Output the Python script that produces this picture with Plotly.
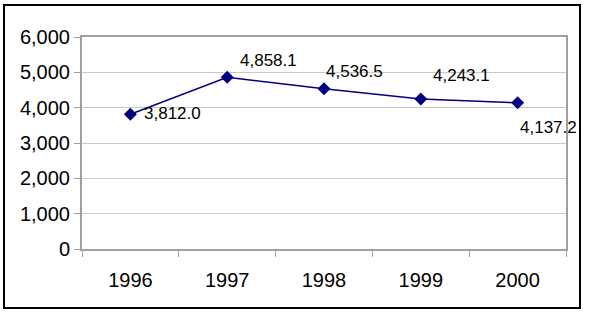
import plotly.graph_objects as go

years = ["1996", "1997", "1998", "1999", "2000"]
values = [3812.0, 4858.1, 4536.5, 4243.1, 4137.2]
labels = ["3,812.0", "4,858.1", "4,536.5", "4,243.1", "4,137.2"]
y_ticks = [0, 1000, 2000, 3000, 4000, 5000, 6000]
y_tick_text = ["0", "1,000", "2,000", "3,000", "4,000", "5,000", "6,000"]

# label offsets (px) to mimic the original placement
label_dx = [12, 11, 0, 10, 0]
label_dy = [1, 17, 17, 24, -25]

FONT = "Liberation Sans, Arial, sans-serif"
xpos = list(range(len(years)))

fig = go.Figure()
fig.add_trace(go.Scatter(
    x=xpos, y=values, mode="lines+markers",
    line=dict(color="#000080", width=1.5),
    marker=dict(symbol="diamond", size=10, color="#000080"),
    hoverinfo="skip", showlegend=False,
))

for x, y, t, dx, dy in zip(xpos, values, labels, label_dx, label_dy):
    fig.add_annotation(x=x, y=y, text=t, showarrow=False, xanchor="left",
                       yanchor="middle", xshift=dx, yshift=dy,
                       font=dict(family=FONT, size=17, color="black"))

# outer frame
fig.add_shape(type="rect", xref="paper", yref="paper",
              x0=(4 - 82) / 484, x1=(580 - 82) / 484,
              y0=(249 - 308) / 212, y1=(249 - 5) / 212,
              line=dict(color="black", width=2), fillcolor="rgba(0,0,0,0)")

fig.update_layout(
    width=590, height=318,
    margin=dict(l=82, r=24, t=37, b=69),
    paper_bgcolor="white", plot_bgcolor="white",
    font=dict(family=FONT, size=20, color="black"),
    xaxis=dict(range=[-0.5, len(years) - 0.5], tickmode="array",
               tickvals=xpos, ticktext=years, ticks="", tickangle=0,
               minor=dict(tickmode="linear", tick0=-0.5, dtick=1,
                          ticks="outside", ticklen=6, tickcolor="#a0a0a0",
                          showgrid=False),
               showgrid=False, zeroline=False,
               showline=True, linecolor="#a0a0a0", linewidth=2, mirror=True,
               ticklabelstandoff=12, tickfont=dict(size=20, family=FONT),
               automargin=False, fixedrange=True),
    yaxis=dict(range=[0, 6000], tickvals=y_ticks, ticktext=y_tick_text,
               ticks="outside", ticklen=6, tickcolor="#a0a0a0",
               showgrid=True, gridcolor="#c8c8c8", gridwidth=1,
               showline=True, linecolor="#a0a0a0", linewidth=2, mirror=True,
               zeroline=False, tickfont=dict(size=20, family=FONT),
               automargin=False, fixedrange=True),
)

fig.write_html("out.html", config={"displayModeBar": False})
